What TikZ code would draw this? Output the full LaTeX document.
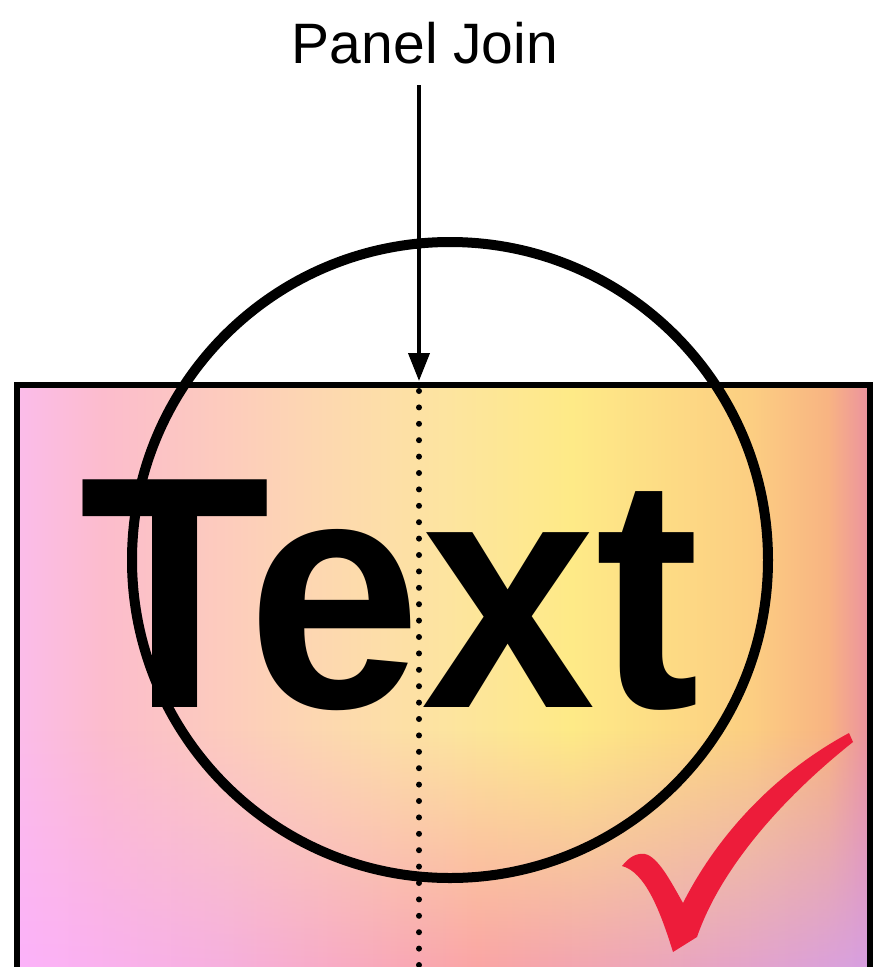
\documentclass[tikz,border=0pt]{standalone}
\usepackage{fontspec}
\setmainfont{Liberation Sans}
\newfontfamily\wordfont[FakeStretch=0.945]{Liberation Sans}
\usepackage{tikz}
\usetikzlibrary{arrows.meta, fadings, positioning}
\definecolor{pink1}{RGB}{251,188,234}
\definecolor{rosy1}{RGB}{252,188,205}
\definecolor{peach1}{RGB}{253,214,178}
\definecolor{peach2}{RGB}{253,228,160}
\definecolor{yellow1}{RGB}{254,234,135}
\definecolor{orange1}{RGB}{252,206,130}
\definecolor{orange2}{RGB}{248,180,130}
\definecolor{salmon1}{RGB}{235,145,160}
\definecolor{violet1}{RGB}{252,178,250}
\definecolor{pink2}{RGB}{246,176,222}
\definecolor{salmon2}{RGB}{250,165,165}
\definecolor{rose2}{RGB}{236,166,188}
\definecolor{lavender1}{RGB}{215,160,225}
\definecolor{checkred}{RGB}{237,28,58}
\pgfdeclarehorizontalshading{panelshade}{100bp}{color(0bp)=(pink1); color(25bp)=(pink1);
  color(30bp)=(rosy1); color(42bp)=(peach1); color(50bp)=(peach2); color(57.5bp)=(yellow1);
  color(68bp)=(orange1); color(72.5bp)=(orange2); color(75bp)=(salmon1); color(100bp)=(salmon1)}
\pgfdeclarehorizontalshading{bottomshade}{100bp}{color(0bp)=(violet1); color(25bp)=(violet1);
  color(37bp)=(pink2); color(52bp)=(salmon2); color(63bp)=(rose2);
  color(75bp)=(lavender1); color(100bp)=(lavender1)}
\tikzfading[name=fadebottom, top color=transparent!100, bottom color=transparent!0]

\begin{document}
\begin{tikzpicture}[x=1pt, y=-1pt,
    panelframe/.style={draw=black, line width=5.5pt},
    ringline/.style={circle, draw=black, line width=10pt, minimum size=636pt, inner sep=0pt},
    joinarrow/.style={-{Triangle[length=28pt, width=21pt]}, line width=4pt, black},
    joinline/.style={line width=6pt, line cap=round, dash pattern=on 0pt off 16.4pt},
    bigword/.style={font=\fontsize{331}{331}\wordfont\bfseries, inner sep=0pt, anchor=base},
    caption/.style={font=\fontsize{57}{60}\selectfont, inner sep=0pt, anchor=base}
]

% page
\fill[white] (0,0) rectangle (887,967);
\useasboundingbox (0,0) rectangle (887,967);

\begin{scope}
\clip (0,0) rectangle (887,967);

% panel colours
\shade[shading=panelshade] (17,385) rectangle (870,1000);
\shade[shading=bottomshade, path fading=fadebottom] (17,730) rectangle (870,967);

\node[bigword] (word) at (389.5,707) {Text};

\node[ringline] (ring) at (450,560) {};

% seam of the two panels
\coordinate (seamtop) at (419,391);
\coordinate (seambottom) at (419,980);
\draw[joinline] (seamtop) -- (seambottom);

% tick
\fill[checkred] (673,952) .. controls (660,910) and (645,872) .. (622,866)
  .. controls (630,856) and (637,853) .. (645,854)
  .. controls (658,857) and (670,880) .. (683,903)
  .. controls (720,830) and (780,770) .. (849,733)
  -- (853,742)
  .. controls (780,800) and (720,870) .. (697,937)
  -- cycle;

\draw[panelframe] (17,385) rectangle (870,1000);
\end{scope}

\node[caption] (joinlabel) at (425,63) {Panel Join};
\coordinate (jointop) at (419,85);
\coordinate (jointip) at (419,381);
\draw[joinarrow] (jointop) -- (jointip);

\end{tikzpicture}
\end{document}
